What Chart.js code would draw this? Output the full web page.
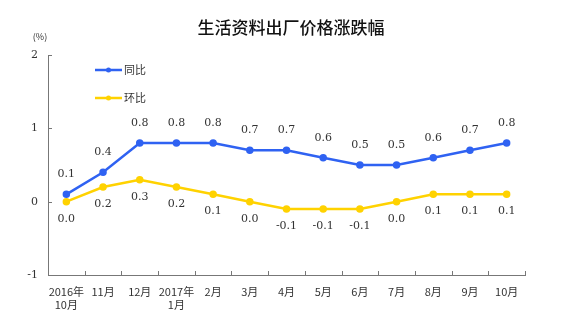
<!DOCTYPE html>
<html>
<head>
<meta charset="utf-8">
<script src="https://cdn.jsdelivr.net/npm/chart.js@4"></script>
<style>
  html, body { margin: 0; padding: 0; background: #fff; }
  #wrap { width: 569px; height: 325px; }
</style>
</head>
<body>
<div id="wrap"><canvas id="c" width="569" height="325"></canvas></div>
<script>
const months = [['2016年', '10月'], '11月', '12月', ['2017年', '1月'], '2月', '3月', '4月', '5月', '6月', '7月', '8月', '9月', '10月'];
const yoy = [0.1, 0.4, 0.8, 0.8, 0.8, 0.7, 0.7, 0.6, 0.5, 0.5, 0.6, 0.7, 0.8];
const mom = [0.0, 0.2, 0.3, 0.2, 0.1, 0.0, -0.1, -0.1, -0.1, 0.0, 0.1, 0.1, 0.1];
const yTicks = [-1, 0, 1, 2];

const FONT = '"Noto Sans CJK SC", "DejaVu Sans", sans-serif';
const BLUE = '#2f62f2';
const YELLOW = '#ffd200';

// title, unit, legend, value labels and inner tick marks
const decorate = {
    id: 'decorate',
    afterDraw(chart) {
        const { ctx, chartArea, scales } = chart;
        const x = scales.x, y = scales.y;
        ctx.save();

        ctx.fillStyle = '#111';
        ctx.font = '500 17px ' + FONT;
        ctx.textAlign = 'center';
        ctx.textBaseline = 'middle';
        ctx.fillText('生活资料出厂价格涨跌幅', 291, 28);

        ctx.fillStyle = '#333';
        ctx.font = '9px ' + FONT;
        ctx.fillText('(%)', 40, 37);

        // small tick marks pointing into the plot
        ctx.strokeStyle = '#777';
        ctx.lineWidth = 1;
        const step = x.getPixelForTick(1) - x.getPixelForTick(0);
        for (let i = 1; i <= months.length; i++) {
            const px = Math.round(x.getPixelForTick(0) - step / 2 + i * step) + 0.5;
            ctx.beginPath();
            ctx.moveTo(px, chartArea.bottom);
            ctx.lineTo(px, chartArea.bottom - 4);
            ctx.stroke();
        }
        yTicks.forEach(v => {
            const py = Math.round(y.getPixelForValue(v)) + 0.5;
            ctx.beginPath();
            ctx.moveTo(chartArea.left, py);
            ctx.lineTo(chartArea.left + 4, py);
            ctx.stroke();
        });

        // legend
        [[BLUE, '同比', 70], [YELLOW, '环比', 98]].forEach(([col, txt, ly]) => {
            ctx.strokeStyle = col;
            ctx.lineWidth = 2.5;
            ctx.beginPath();
            ctx.moveTo(95, ly);
            ctx.lineTo(122, ly);
            ctx.stroke();
            ctx.fillStyle = col;
            ctx.beginPath();
            ctx.arc(108.5, ly, 2.5, 0, Math.PI * 2);
            ctx.fill();
            ctx.fillStyle = '#333';
            ctx.font = '11px ' + FONT;
            ctx.textAlign = 'left';
            ctx.fillText(txt, 124, ly);
        });

        // value labels
        ctx.font = '11px "DejaVu Serif", serif';
        ctx.fillStyle = '#333';
        ctx.textAlign = 'center';
        chart.getDatasetMeta(0).data.forEach((pt, i) => {
            ctx.fillText(yoy[i].toFixed(1), pt.x, pt.y - 20);
        });
        chart.getDatasetMeta(1).data.forEach((pt, i) => {
            ctx.fillText(mom[i].toFixed(1), pt.x, pt.y + 17);
        });
        ctx.restore();
    }
};

new Chart(document.getElementById('c'), {
    type: 'line',
    data: {
        labels: months,
        datasets: [
            { label: '同比', data: yoy, borderColor: BLUE, backgroundColor: BLUE, borderWidth: 2.5, pointRadius: 2.5, pointHoverRadius: 2.5, tension: 0 },
            { label: '环比', data: mom, borderColor: YELLOW, backgroundColor: YELLOW, borderWidth: 2.5, pointRadius: 2.5, pointHoverRadius: 2.5, tension: 0 }
        ]
    },
    options: {
        responsive: false,
        animation: false,
        events: [],
        layout: { padding: { top: 55, right: 44, bottom: 0, left: 0 } },
        plugins: { legend: { display: false }, title: { display: false }, tooltip: { enabled: false } },
        scales: {
            x: {
                offset: true,
                grid: { display: false, drawTicks: false },
                border: { display: true, color: '#777', width: 1 },
                ticks: { color: '#333', font: { family: FONT, size: 11 }, padding: 10, maxRotation: 0, autoSkip: false },
                afterFit: s => { s.height = 50; }
            },
            y: {
                min: -1, max: 2,
                afterBuildTicks: s => { s.ticks = yTicks.map(v => ({ value: v })); },
                grid: { display: false, drawTicks: false },
                border: { display: true, color: '#777', width: 1 },
                ticks: { color: '#333', font: { family: '"DejaVu Serif", serif', size: 11 }, padding: 10 },
                afterFit: s => { s.width = 48; }
            }
        }
    },
    plugins: [decorate]
});
</script>
</body>
</html>
